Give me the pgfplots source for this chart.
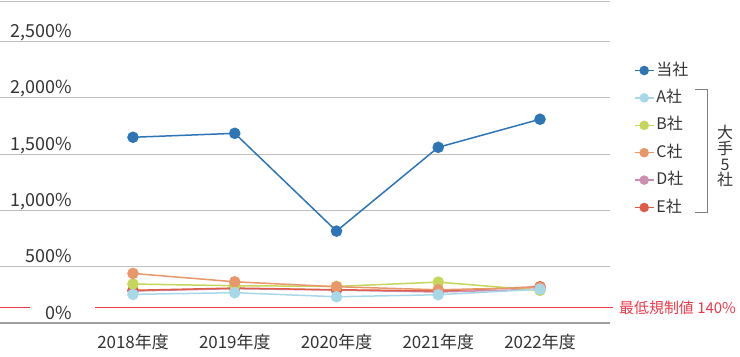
\documentclass[border=0pt]{standalone}
\usepackage{pgfplots}
\pgfplotsset{compat=1.18}
\usepackage{fontspec}
\setmainfont{Noto Sans CJK JP}
\definecolor{cMain}{HTML}{2E75B6}
\definecolor{cA}{HTML}{A8D8E8}
\definecolor{cB}{HTML}{C5D65A}
\definecolor{cC}{HTML}{E8976A}
\definecolor{cD}{HTML}{CC8FB0}
\definecolor{cE}{HTML}{E05A48}
\definecolor{cRed}{HTML}{EE3A4C}
\definecolor{cGrid}{HTML}{BFBFBF}
\definecolor{cText}{HTML}{333333}
\begin{document}
\begin{tikzpicture}
\begin{axis}[
  at={(0,0)}, anchor=south west, scale only axis,
  width=610bp, height=321bp,
  xmin=-1.307, xmax=4.688, ymin=0, ymax=2850,
  clip=false,
  axis line style={draw=none}, tick style={draw=none},
  xtick={0,1,2,3,4},
  xticklabels={2018年度,2019年度,2020年度,2021年度,2022年度},
  xticklabel style={anchor=base, inner sep=0pt, yshift=-25bp, font=\fontsize{17}{17}\selectfont, text=cText},
  ytick={0,500,1000,1500,2000,2500},
  yticklabels={0\%,500\%,{1,000\%},{1,500\%},{2,000\%},{2,500\%}},
  yticklabel style={anchor=base east, inner sep=0pt, xshift=72bp, yshift=4bp, font=\fontsize{18}{18}\selectfont, text=cText},
  ymajorgrids, grid style={cGrid, line width=1bp},
  legend style={at={(1.034,0.823)}, anchor=north west, draw=none, fill=none,
    font=\fontsize{16}{16}\selectfont, text=cText, row sep=8.4bp,
    nodes={inner sep=2bp, text height=12bp, text depth=3bp}},
  legend cell align=left,
  legend image code/.code={\draw[#1, mark size=4bp, mark repeat=2, mark phase=2] plot coordinates {(0bp,0bp)(9.5bp,0bp)(19bp,0bp)};},
  every axis plot/.append style={line width=1.5bp, mark=*, mark size=5bp},
]
\addlegendimage{cMain, mark options={fill=cMain, draw=cMain}}
\addlegendentry{当社}
\addlegendimage{cA, mark options={fill=cA, draw=cA}}
\addlegendentry{A社}
\addlegendimage{cB, mark options={fill=cB, draw=cB}}
\addlegendentry{B社}
\addlegendimage{cC, mark options={fill=cC, draw=cC}}
\addlegendentry{C社}
\addlegendimage{cD, mark options={fill=cD, draw=cD}}
\addlegendentry{D社}
\addlegendimage{cE, mark options={fill=cE, draw=cE}}
\addlegendentry{E社}

% top and bottom lines
\draw[cGrid, line width=1bp] (rel axis cs:0,1) -- (rel axis cs:1,1);
\draw[gray!75, line width=2bp] (rel axis cs:0,0) -- (rel axis cs:1,0);

% regulatory minimum line (140%)
\addplot[forget plot, color=cRed, line width=1.2bp, mark=none] coordinates {(-1.307,140) (-1.012,140)};
\addplot[forget plot, color=cRed, line width=1.2bp, mark=none] coordinates {(-0.373,140) (4.717,140)};

\addplot[forget plot, cMain, mark options={fill=cMain, draw=cMain}] coordinates {(0,1649) (1,1684) (2,816) (3,1560) (4,1809)};
\addplot[forget plot, cD, mark options={fill=cD, draw=cD}] coordinates {(0,284) (1,305) (2,292) (3,275) (4,300)};
\addplot[forget plot, cE, mark options={fill=cE, draw=cE}] coordinates {(0,290) (1,310) (2,295) (3,285) (4,322)};
\addplot[forget plot, cB, mark options={fill=cB, draw=cB}] coordinates {(0,346) (1,331) (2,325) (3,363) (4,290)};
\addplot[forget plot, cC, mark options={fill=cC, draw=cC}] coordinates {(0,440) (1,366) (2,322) (3,295) (4,315)};
\addplot[forget plot, cA, mark options={fill=cA, draw=cA}] coordinates {(0,254) (1,269) (2,233) (3,251) (4,300)};
\end{axis}
% bracket and group label
\draw[gray, line width=1bp] (695bp,233bp) -- (707bp,233bp) -- (707bp,110bp) -- (695bp,110bp);
\node[text=cText, font=\fontsize{16}{16}\selectfont, align=center, inner sep=0pt] at (725bp,167bp) {大\\手\\5\\社};
\node[text=cRed, font=\fontsize{15}{15}\selectfont, anchor=west, inner sep=0pt] at (619bp,15.5bp) {最低規制値 140\%};
\pgfresetboundingbox
\path (0bp,-34bp) rectangle (740bp,323bp);
\end{tikzpicture}
\end{document}
